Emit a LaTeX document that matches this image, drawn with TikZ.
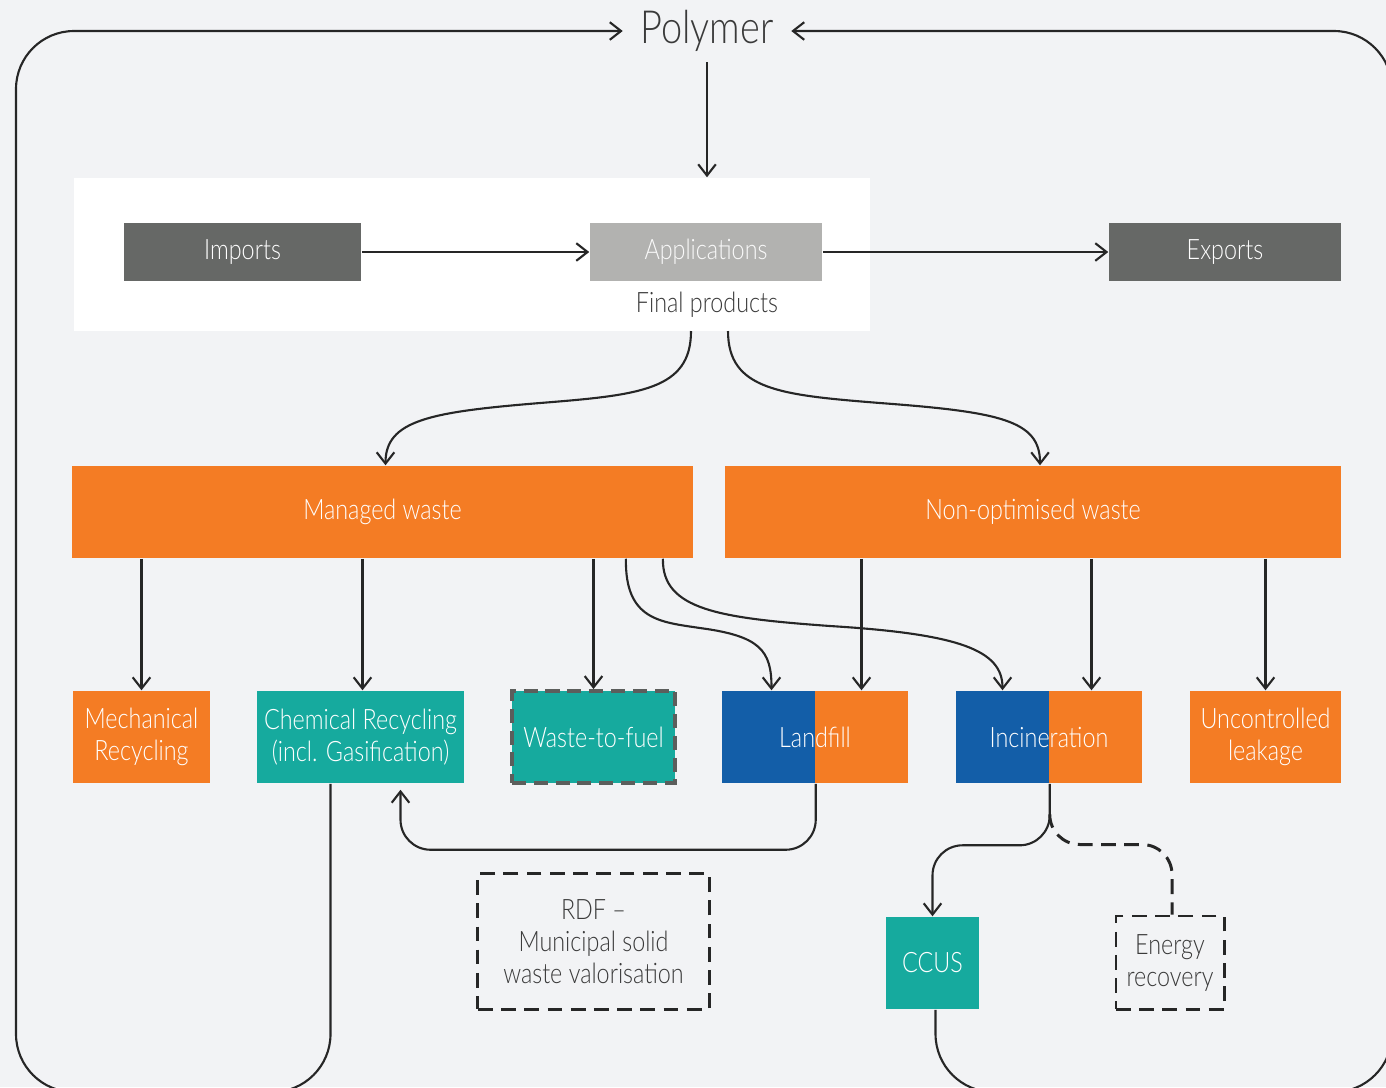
\documentclass[tikz,border=0pt]{standalone}
\usepackage{fontspec}
\setmainfont{Lato}[UprightFont={* Light}, FakeStretch=0.83]
\usetikzlibrary{arrows.meta,calc}
\definecolor{bgcol}{HTML}{F2F3F5}
\definecolor{wasteorange}{HTML}{F47C24}
\definecolor{recteal}{HTML}{16AA9E}
\definecolor{fillblue}{HTML}{135EA8}
\definecolor{darkbox}{HTML}{666866}
\definecolor{lightbox}{HTML}{B2B2B0}
\definecolor{linecol}{HTML}{262626}
\definecolor{labelcol}{HTML}{3A3A3A}

\begin{document}
\begin{tikzpicture}[x=0.01cm, y=-0.01cm,
  box/.style={rectangle, inner sep=0pt, text=white, align=center, font=\fontsize{8}{9.1}\selectfont},
  greybox/.style={box, fill=darkbox, minimum height=0.58cm},
  wastebox/.style={box, fill=wasteorange, minimum height=0.92cm},
  tealbox/.style={box, fill=recteal, minimum height=0.92cm},
  halfbox/.style={box, minimum width=0.93cm, minimum height=0.92cm},
  dashbox/.style={box, text=labelcol, draw=linecol, line width=0.85pt, dash pattern=on 4.2pt off 2.4pt},
  flow/.style={draw=linecol, line width=0.6pt, -{Straight Barb[length=3.2pt,width=5pt]}},
  ]
\useasboundingbox (0,0) rectangle (1386,1087);
\fill[bgcol] (0,0) rectangle (1386,1087);
\node[fill=white, inner sep=0pt, minimum width=7.96cm, minimum height=1.53cm] (panel) at (472,254.5) {};

\node[text=labelcol, inner xsep=0.17cm, inner ysep=0.1cm, font=\fontsize{13}{15}\selectfont] (poly) at (707,31) {Polymer};

\node[greybox, minimum width=2.37cm] (imp) at (242.5,252) {Imports};
\node[greybox, fill=lightbox, text=white!94!lightbox, minimum width=2.32cm] (app) at (706,252) {Applications};
\node[greybox, minimum width=2.32cm] (exp) at (1225,252) {Exports};
\node[text=labelcol, font=\fontsize{8}{9}\selectfont] (fp) at (707,305) {Final products};

\node[wastebox, minimum width=6.21cm] (mw) at (382.5,512) {Managed waste};
\node[wastebox, minimum width=6.16cm] (nw) at (1033,512) {Non-optimised waste};

\node[wastebox, minimum width=1.37cm] (mech) at (141.5,737) {Mechanical\\Recycling};
\node[tealbox, minimum width=2.07cm] (chem) at (360.5,737) {Chemical Recycling\\(incl. Gasification)};
\node[tealbox, minimum width=1.63cm, draw=darkbox!90!black, line width=1.1pt, dash pattern=on 4pt off 2.2pt] (wtf) at (593.5,737) {Waste-to-fuel};
\node[halfbox, fill=fillblue] (landL) at (768.5,737) {};
\node[halfbox, fill=wasteorange] (landR) at (861.5,737) {};
\node[box] (land) at (815,737) {Landfill};
\node[halfbox, fill=fillblue] (incL) at (1002.5,737) {};
\node[halfbox, fill=wasteorange] (incR) at (1095.5,737) {};
\node[box] (inc) at (1049,737) {Incineration};
\node[wastebox, minimum width=1.51cm] (leak) at (1265.5,737) {Uncontrolled\\leakage};

\node[dashbox, minimum width=2.31cm, minimum height=1.35cm] (rdf) at (593.5,941.5) {RDF --\\Municipal solid\\waste valorisation};
\node[tealbox, minimum width=0.93cm] (ccus) at (932.5,963) {CCUS};
\node[dashbox, minimum width=1.08cm, minimum height=0.93cm] (enr) at (1170,962.5) {Energy\\recovery};

\coordinate (mwout) at (691,331);
\coordinate (nwout) at (728,331);

\draw[flow] (poly.south) -- (poly.south |- panel.north);
\draw[flow, rounded corners=0.58cm] ($(chem.south)+(-30,0)$) |- (16,1092) |- (poly.west);
\draw[flow, rounded corners=0.58cm] ($(ccus.south)+(3,0)$) |- (1392,1092) |- (poly.east);
\draw[flow] (imp.east) -- (app.west);
\draw[flow] (app.east) -- (exp.west);

\draw[flow] (mwout) .. controls (691,390) and (640,395) .. (540,403) .. controls (430,412) and ($(mw.north)+(3,-45)$) .. ($(mw.north)+(3,0)$);
\draw[flow] (nwout) .. controls (728,390) and (780,395) .. (880,403) .. controls (1000,412) and ($(nw.north)+(7,-45)$) .. ($(nw.north)+(7,0)$);

\draw[flow] (mech.north |- mw.south) -- (mech.north);
\draw[flow] ($(chem.north |- mw.south)+(2,0)$) -- ($(chem.north)+(2,0)$);
\draw[flow] (wtf.north |- mw.south) -- (wtf.north);
\draw[flow] ($(mw.south east)+(-68,0)$) .. controls (625,620) and (660,622) .. (700,628) .. controls (760,636) and ($(landL.north)+(3,-40)$) .. ($(landL.north)+(3,0)$);
\draw[flow] ($(mw.south east)+(-31,0)$) .. controls (662,610) and (720,618) .. (830,626) .. controls (960,634) and ($(incL.north)+(0,-40)$) .. (incL.north);

\draw[flow] (landR.north |- nw.south) -- (landR.north);
\draw[flow] ($(incR.north |- nw.south)+(-4,0)$) -- ($(incR.north)+(-4,0)$);
\draw[flow] (leak.north |- nw.south) -- (leak.north);

\draw[flow, rounded corners=0.3cm] (landL.south east) |- ($(chem.south)+(40,66)$) -- ($(chem.south)+(40,6)$);
\draw[flow, rounded corners=0.3cm] (incL.south east) |- ($(ccus.north)+(0,-71)$) -- (ccus.north);
\draw[linecol, line width=0.85pt, dash pattern=on 4.2pt off 2.4pt, rounded corners=0.3cm] ($(incL.south east)+(0,32)$) |- ($(enr.north)+(2,-70)$) -- ($(enr.north)+(2,0)$);
\end{tikzpicture}
\end{document}
